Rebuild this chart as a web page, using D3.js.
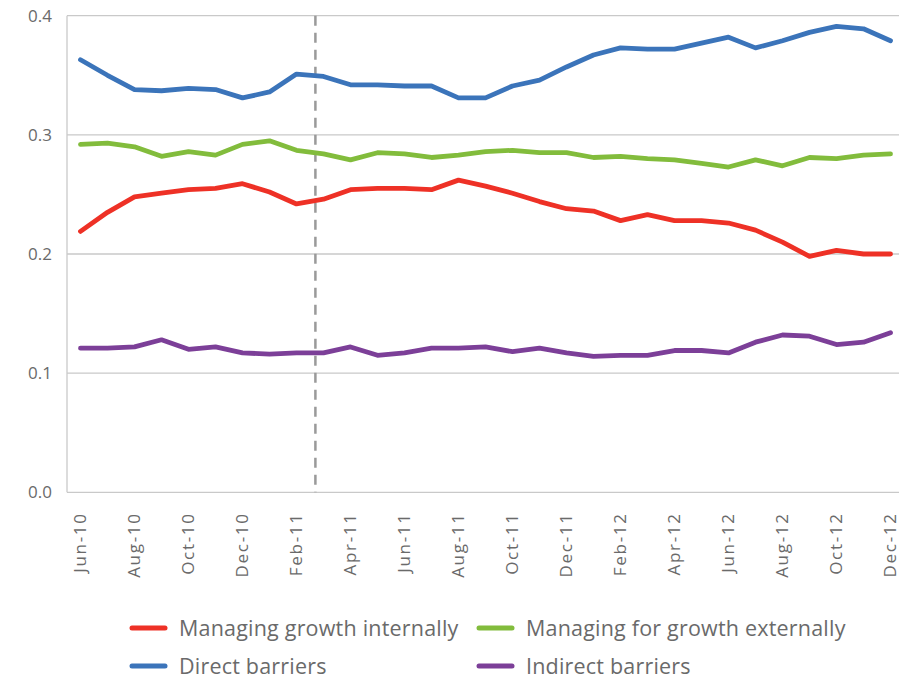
<!DOCTYPE html>
<html>
<head>
<meta charset="utf-8">
<script src="https://cdn.jsdelivr.net/npm/d3@7"></script>
<style>
  html, body { margin: 0; padding: 0; background: #fff; }
  svg { display: block; font-family: "Open Sans", "DejaVu Sans", sans-serif; }
</style>
</head>
<body>
<svg id="chart" width="899" height="679"></svg>
<script>
// Monthly survey indices, June 2010 to December 2012
const months = [
  "Jun-10","Jul-10","Aug-10","Sep-10","Oct-10","Nov-10","Dec-10","Jan-11","Feb-11","Mar-11",
  "Apr-11","May-11","Jun-11","Jul-11","Aug-11","Sep-11","Oct-11","Nov-11","Dec-11","Jan-12",
  "Feb-12","Mar-12","Apr-12","May-12","Jun-12","Jul-12","Aug-12","Sep-12","Oct-12","Nov-12","Dec-12"
];
const managingInternally = [0.219,0.235,0.248,0.251,0.254,0.255,0.259,0.252,0.242,0.246,0.254,0.255,0.255,0.254,0.262,0.257,0.251,0.244,0.238,0.236,0.228,0.233,0.228,0.228,0.226,0.220,0.210,0.198,0.203,0.200,0.200];
const managingExternally = [0.292,0.293,0.290,0.282,0.286,0.283,0.292,0.295,0.287,0.284,0.279,0.285,0.284,0.281,0.283,0.286,0.287,0.285,0.285,0.281,0.282,0.280,0.279,0.276,0.273,0.279,0.274,0.281,0.280,0.283,0.284];
const directBarriers = [0.363,0.350,0.338,0.337,0.339,0.338,0.331,0.336,0.351,0.349,0.342,0.342,0.341,0.341,0.331,0.331,0.341,0.346,0.357,0.367,0.373,0.372,0.372,0.377,0.382,0.373,0.379,0.386,0.391,0.389,0.379];
const indirectBarriers = [0.121,0.121,0.122,0.128,0.120,0.122,0.117,0.116,0.117,0.117,0.122,0.115,0.117,0.121,0.121,0.122,0.118,0.121,0.117,0.114,0.115,0.115,0.119,0.119,0.117,0.126,0.132,0.131,0.124,0.126,0.134];
const yTicks = [0.0, 0.1, 0.2, 0.3, 0.4];
const xTickLabels = months.filter((m, i) => i % 2 === 0);
// Vertical break marker sits between Feb-11 and Mar-11
const breakMonth = "Feb-11";
const breakOffset = 0.7;

const series = [
  { name: "Managing growth internally", values: managingInternally, color: "#ee3126" },
  { name: "Managing for growth externally", values: managingExternally, color: "#82bc3c" },
  { name: "Direct barriers", values: directBarriers, color: "#3b74ba" },
  { name: "Indirect barriers", values: indirectBarriers, color: "#7c3f98" }
];

const svg = d3.select("#chart");
const plot = { left: 67, right: 904, top: 15.7, bottom: 492.3 };

const x = d3.scaleBand().domain(months).range([plot.left, plot.right]).paddingInner(0).paddingOuter(0);
const bw = x.bandwidth();
const cx = m => x(m) + bw / 2;
const y = d3.scaleLinear().domain([0, 0.4]).range([plot.bottom, plot.top]);

const gridColor = "#c9c9c9";
const textColor = "#6a6a6a";

// Horizontal gridlines
svg.append("g").selectAll("line").data(yTicks).join("line")
  .attr("x1", plot.left).attr("x2", 899)
  .attr("y1", d => y(d)).attr("y2", d => y(d))
  .attr("stroke", gridColor).attr("stroke-width", 1.3);

// Left axis line
svg.append("line")
  .attr("x1", plot.left).attr("x2", plot.left)
  .attr("y1", y(0.4)).attr("y2", y(0))
  .attr("stroke", gridColor).attr("stroke-width", 1.3);

// Y axis labels
const yAxis = d3.axisLeft(y).tickValues(yTicks).tickFormat(d3.format(".1f")).tickSize(0).tickPadding(15);
const gy = svg.append("g").attr("transform", `translate(${plot.left},0)`).call(yAxis);
gy.select(".domain").remove();
gy.selectAll("text").attr("fill", textColor).style("font-size", "17px")
  .style("font-family", "\"Open Sans\", sans-serif");

// X axis labels, rotated
const xAxis = d3.axisBottom(x).tickValues(xTickLabels).tickSize(0).tickPadding(0);
const gx = svg.append("g").attr("transform", `translate(0,${y(0)})`).call(xAxis);
gx.select(".domain").remove();
gx.selectAll("text")
  .attr("fill", textColor)
  .style("font-size", "17px")
  .style("letter-spacing", "1.7px")
  .style("font-family", "\"Open Sans\", sans-serif")
  .attr("text-anchor", "end")
  .attr("transform", "translate(0,20) rotate(-90)")
  .attr("x", 0).attr("y", 0).attr("dy", "0.35em");

// Dashed break marker
const breakX = cx(breakMonth) + breakOffset * bw;
svg.append("line")
  .attr("x1", breakX).attr("x2", breakX)
  .attr("y1", y(0.4)).attr("y2", y(0))
  .attr("stroke", "#9a9a9a").attr("stroke-width", 2.5)
  .attr("stroke-dasharray", "10,7");

// Series lines
const line = d3.line().x((d, i) => cx(months[i])).y(d => y(d));
svg.append("g").selectAll("path").data(series).join("path")
  .attr("d", d => line(d.values))
  .attr("fill", "none")
  .attr("stroke", d => d.color)
  .attr("stroke-width", 4.8)
  .attr("stroke-linejoin", "round")
  .attr("stroke-linecap", "round");

// Legend, two rows by two columns
const legendPos = [
  { x: 132, y: 628 }, { x: 479, y: 628 },
  { x: 132, y: 666 }, { x: 479, y: 666 }
];
const lg = svg.append("g").selectAll("g").data(series).join("g")
  .attr("transform", (d, i) => `translate(${legendPos[i].x},${legendPos[i].y})`);
lg.append("line").attr("x1", 0).attr("x2", 33).attr("y1", 0).attr("y2", 0)
  .attr("stroke", d => d.color).attr("stroke-width", 5).attr("stroke-linecap", "round");
lg.append("text").attr("x", 47).attr("y", 0).attr("dy", "0.35em")
  .attr("fill", textColor).style("font-size", "21.5px")
  .style("letter-spacing", "0.2px")
  .style("font-family", "\"Open Sans\", sans-serif")
  .text(d => d.name);
</script>
</body>
</html>
